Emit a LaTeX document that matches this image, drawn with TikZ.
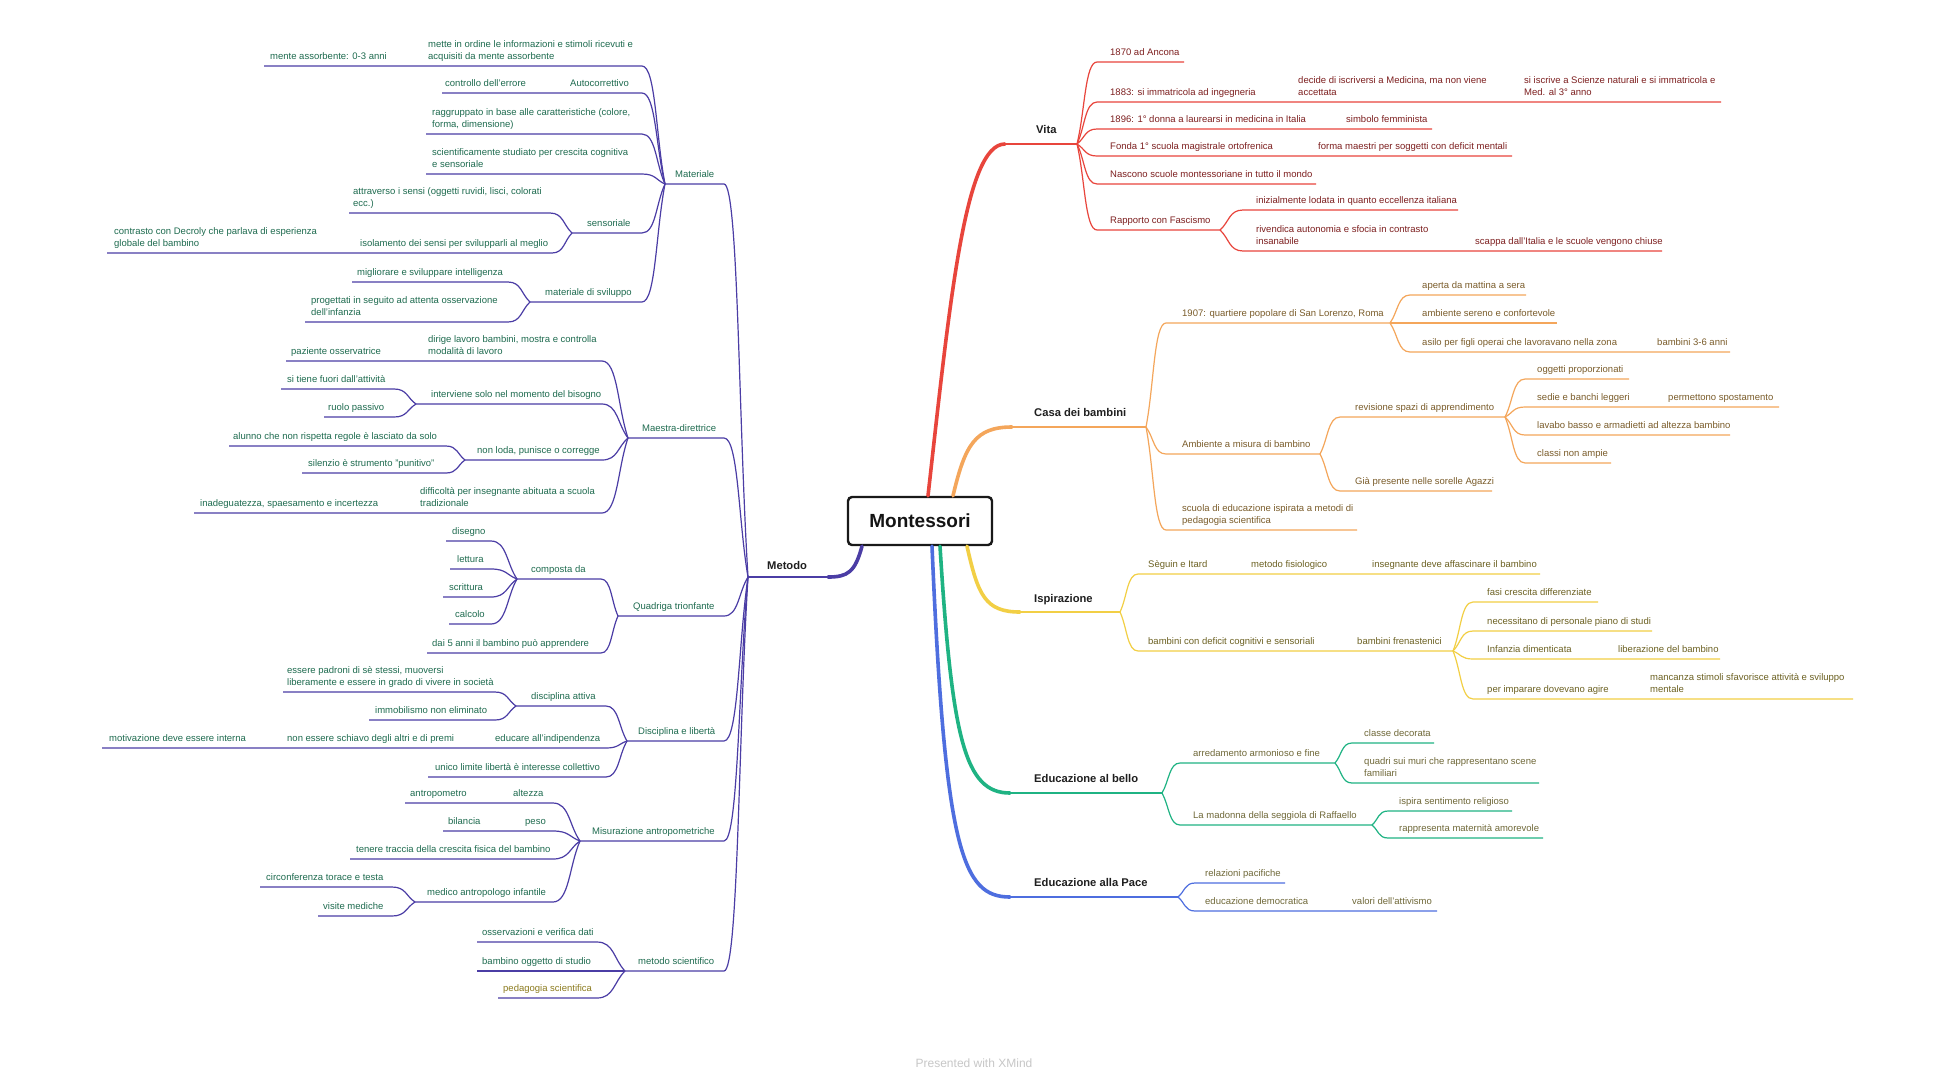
\documentclass[tikz,border=0pt]{standalone}
\usepackage{fontspec}
\setmainfont{Liberation Sans}
\usetikzlibrary{calc}

\definecolor{vitaline}{HTML}{E8453C}
\definecolor{vitatext}{HTML}{7D1F1F}
\definecolor{casaline}{HTML}{F4A65B}
\definecolor{casatext}{HTML}{7A5C2A}
\definecolor{ispiline}{HTML}{F2CF45}
\definecolor{ispitext}{HTML}{6C6122}
\definecolor{belloline}{HTML}{1FB383}
\definecolor{paceline}{HTML}{4E6EDF}
\definecolor{bellotext}{HTML}{6F6838}
\definecolor{metline}{HTML}{4B3DA5}
\definecolor{mettext}{HTML}{1E6B4F}
\definecolor{pedtext}{HTML}{8C7B1E}

\newcommand{\twol}[2]{\begin{tabular}[b]{@{}l@{}}#1\\#2\end{tabular}}

\tikzset{
  lbl/.style={anchor=base west, inner sep=0pt, font=\fontsize{9.5}{12}\selectfont},
  vitatxt/.style={lbl, text=vitatext},
  casatxt/.style={lbl, text=casatext},
  ispitxt/.style={lbl, text=ispitext},
  bellotxt/.style={lbl, text=bellotext},
  mettxt/.style={lbl, text=mettext},
  pedtxt/.style={lbl, text=pedtext},
  mainlbl/.style={anchor=base west, inner sep=0pt, font=\fontsize{11.2}{13}\selectfont\bfseries, text=black!88},
  vitaln/.style={line width=1.2pt, draw=vitaline},
  casaln/.style={line width=1.2pt, draw=casaline},
  ispiln/.style={line width=1.2pt, draw=ispiline},
  belloln/.style={line width=1.2pt, draw=belloline},
  paceln/.style={line width=1.2pt, draw=paceline},
  metln/.style={line width=1.2pt, draw=metline},
  trunk/.style={line width=3.6pt, line cap=round},
  trunkend/.style={line width=2.5pt},
  fan/.style={to path={.. controls ($(\tikztostart)!0.4!(\tikztotarget)$) and ($(\tikztotarget)!0.6!(\tikztostart |- \tikztotarget)$) .. (\tikztotarget)}},
}

\begin{document}
\begin{tikzpicture}[x=1pt,y=-1pt]
  \fill[white] (0,0) rectangle (1948,1080);
  \useasboundingbox (0,0) rectangle (1948,1080);

  \node[draw=black!90, line width=2.4pt, rounded corners=4pt, minimum width=144pt, minimum height=48pt,
        font=\fontsize{19}{22}\selectfont\bfseries, text=black!92] (root) at (920,521) {Montessori};

  % main branches
  \coordinate (vitaA) at (1005,144);   \coordinate (vita) at (1077,144);
  \coordinate (casaA) at (1012,427);   \coordinate (casa) at (1146,427);
  \coordinate (ispiA) at (1020,612);   \coordinate (ispi) at (1120,612);
  \coordinate (belloA) at (1010,793);  \coordinate (bello) at (1162,793);
  \coordinate (paceA) at (1010,897);   \coordinate (pace) at (1178,897);
  \coordinate (metA) at (828,577);     \coordinate (met) at (748,577);

  \draw[trunk, vitaline] ([xshift=8pt]root.north) .. controls (950,300) and (965,144) .. (vitaA);
  \draw[trunkend, vitaline] (vitaA) -- (vita);
  \draw[trunk, casaline] ([xshift=33pt]root.north) .. controls (965,445) and (975,427) .. (casaA);
  \draw[trunkend, casaline] (casaA) -- (casa);
  \draw[trunk, ispiline] ([xshift=47pt]root.south) .. controls (978,595) and (985,612) .. (ispiA);
  \draw[trunkend, ispiline] (ispiA) -- (ispi);
  \draw[trunk, belloline] ([xshift=20pt]root.south) .. controls (952,740) and (965,793) .. (belloA);
  \draw[trunkend, belloline] (belloA) -- (bello);
  \draw[trunk, paceline] ([xshift=12pt]root.south) .. controls (945,850) and (962,897) .. (paceA);
  \draw[trunkend, paceline] (paceA) -- (pace);
  \draw[trunk, metline] ([xshift=-58pt]root.south) .. controls (855,572) and (848,577) .. (metA);
  \draw[trunkend, metline] (metA) -- (met);

  \node[mainlbl] (vitaT) at (1036,133.5) {Vita};
  \node[mainlbl] (casaT) at (1034,416.5) {Casa dei bambini};
  \node[mainlbl] (ispiT) at (1034,602.5) {Ispirazione};
  \node[mainlbl] (belloT) at (1034,782.5) {Educazione al bello};
  \node[mainlbl] (paceT) at (1034,886.5) {Educazione alla Pace};
  \node[mainlbl] (metT) at (767,569.5) {Metodo};

  % Vita
  \coordinate (v1L) at (1097,62);  \coordinate (v1R) at (1184,62);
  \coordinate (v2L) at (1097,102); \coordinate (v2R) at (1721,102);
  \coordinate (v3L) at (1097,129); \coordinate (v3R) at (1432,129);
  \coordinate (v4L) at (1097,156); \coordinate (v4R) at (1512,156);
  \coordinate (v5L) at (1097,184); \coordinate (v5R) at (1316,184);
  \coordinate (v6L) at (1097,230); \coordinate (v6R) at (1220,230);
  \coordinate (v61L) at (1243,210); \coordinate (v61R) at (1458,210);
  \coordinate (v62L) at (1243,251); \coordinate (v62R) at (1662,251);
  \foreach \c in {v1,v2,v3,v4,v5,v6}
    \draw[vitaln] (vita) to[fan] (\c L) -- (\c R);
  \foreach \c in {v61,v62}
    \draw[vitaln] (v6R) to[fan] (\c L) -- (\c R);
  \node[vitatxt] (v1a) at (1110,55.5) {1870 ad Ancona};
  \node[vitatxt] (v2a) at (1110,95.5) {1883: si immatricola ad ingegneria};
  \node[vitatxt] (v2b) at (1298,95.5) {\twol{decide di iscriversi a Medicina, ma non viene}{accettata}};
  \node[vitatxt] (v2c) at (1524,95.5) {\twol{si iscrive a Scienze naturali e si immatricola e}{Med. al 3° anno}};
  \node[vitatxt] (v3a) at (1110,122.5) {1896: 1° donna a laurearsi in medicina in Italia};
  \node[vitatxt] (v3b) at (1346,122.5) {simbolo femminista};
  \node[vitatxt] (v4a) at (1110,149.5) {Fonda 1° scuola magistrale ortofrenica};
  \node[vitatxt] (v4b) at (1318,149.5) {forma maestri per soggetti con deficit mentali};
  \node[vitatxt] (v5a) at (1110,177.5) {Nascono scuole montessoriane in tutto il mondo};
  \node[vitatxt] (v6a) at (1110,223.5) {Rapporto con Fascismo};
  \node[vitatxt] (v61a) at (1256,203.5) {inizialmente lodata in quanto eccellenza italiana};
  \node[vitatxt] (v62a) at (1256,244.5) {\twol{rivendica autonomia e sfocia in contrasto}{insanabile}};
  \node[vitatxt] (v62b) at (1475,244.5) {scappa dall'Italia e le scuole vengono chiuse};

  % Casa dei bambini
  \coordinate (c1L) at (1166,323); \coordinate (c1R) at (1390,323);
  \coordinate (c2L) at (1166,454); \coordinate (c2R) at (1320,454);
  \coordinate (c3L) at (1166,530); \coordinate (c3R) at (1357,530);
  \coordinate (c11L) at (1410,295); \coordinate (c11R) at (1526,295);
  \coordinate (c12L) at (1410,323); \coordinate (c12R) at (1557,323);
  \coordinate (c13L) at (1410,352); \coordinate (c13R) at (1730,352);
  \coordinate (c21L) at (1340,417); \coordinate (c21R) at (1505,417);
  \coordinate (c22L) at (1340,491); \coordinate (c22R) at (1492,491);
  \coordinate (c211L) at (1525,379); \coordinate (c211R) at (1629,379);
  \coordinate (c212L) at (1525,407); \coordinate (c212R) at (1779,407);
  \coordinate (c213L) at (1525,435); \coordinate (c213R) at (1730,435);
  \coordinate (c214L) at (1525,463); \coordinate (c214R) at (1611,463);
  \foreach \c in {c1,c2,c3}
    \draw[casaln] (casa) to[fan] (\c L) -- (\c R);
  \foreach \c in {c11,c12,c13}
    \draw[casaln] (c1R) to[fan] (\c L) -- (\c R);
  \foreach \c in {c21,c22}
    \draw[casaln] (c2R) to[fan] (\c L) -- (\c R);
  \foreach \c in {c211,c212,c213,c214}
    \draw[casaln] (c21R) to[fan] (\c L) -- (\c R);
  \node[casatxt] (c1a) at (1182,316.5) {1907: quartiere popolare di San Lorenzo, Roma};
  \node[casatxt] (c11a) at (1422,288.5) {aperta da mattina a sera};
  \node[casatxt] (c12a) at (1422,316.5) {ambiente sereno e confortevole};
  \node[casatxt] (c13a) at (1422,345.5) {asilo per figli operai che lavoravano nella zona};
  \node[casatxt] (c13b) at (1657,345.5) {bambini 3-6 anni};
  \node[casatxt] (c2a) at (1182,447.5) {Ambiente a misura di bambino};
  \node[casatxt] (c21a) at (1355,410.5) {revisione spazi di apprendimento};
  \node[casatxt] (c211a) at (1537,372.5) {oggetti proporzionati};
  \node[casatxt] (c212a) at (1537,400.5) {sedie e banchi leggeri};
  \node[casatxt] (c212b) at (1668,400.5) {permettono spostamento};
  \node[casatxt] (c213a) at (1537,428.5) {lavabo basso e armadietti ad altezza bambino};
  \node[casatxt] (c214a) at (1537,456.5) {classi non ampie};
  \node[casatxt] (c22a) at (1355,484.5) {Già presente nelle sorelle Agazzi};
  \node[casatxt] (c3a) at (1182,523.5) {\twol{scuola di educazione ispirata a metodi di}{pedagogia scientifica}};

  % Ispirazione
  \coordinate (p1L) at (1138,574); \coordinate (p1R) at (1540,574);
  \coordinate (p2L) at (1138,651); \coordinate (p2R) at (1453,651);
  \coordinate (p21L) at (1473,602); \coordinate (p21R) at (1598,602);
  \coordinate (p22L) at (1473,631); \coordinate (p22R) at (1652,631);
  \coordinate (p23L) at (1473,659); \coordinate (p23R) at (1720,659);
  \coordinate (p24L) at (1473,699); \coordinate (p24R) at (1853,699);
  \foreach \c in {p1,p2}
    \draw[ispiln] (ispi) to[fan] (\c L) -- (\c R);
  \foreach \c in {p21,p22,p23,p24}
    \draw[ispiln] (p2R) to[fan] (\c L) -- (\c R);
  \node[ispitxt] (p1a) at (1148,567.5) {Sèguin e Itard};
  \node[ispitxt] (p1b) at (1251,567.5) {metodo fisiologico};
  \node[ispitxt] (p1c) at (1372,567.5) {insegnante deve affascinare il bambino};
  \node[ispitxt] (p2a) at (1148,644.5) {bambini con deficit cognitivi e sensoriali};
  \node[ispitxt] (p2b) at (1357,644.5) {bambini frenastenici};
  \node[ispitxt] (p21a) at (1487,595.5) {fasi crescita differenziate};
  \node[ispitxt] (p22a) at (1487,624.5) {necessitano di personale piano di studi};
  \node[ispitxt] (p23a) at (1487,652.5) {Infanzia dimenticata};
  \node[ispitxt] (p23b) at (1618,652.5) {liberazione del bambino};
  \node[ispitxt] (p24a) at (1487,692.5) {per imparare dovevano agire};
  \node[ispitxt] (p24b) at (1650,692.5) {\twol{mancanza stimoli sfavorisce attività e sviluppo}{mentale}};

  % Educazione al bello
  \coordinate (b1L) at (1180,763); \coordinate (b1R) at (1335,763);
  \coordinate (b2L) at (1180,825); \coordinate (b2R) at (1372,825);
  \coordinate (b11L) at (1352,743); \coordinate (b11R) at (1434,743);
  \coordinate (b12L) at (1352,783); \coordinate (b12R) at (1539,783);
  \coordinate (b21L) at (1388,811); \coordinate (b21R) at (1512,811);
  \coordinate (b22L) at (1388,838); \coordinate (b22R) at (1543,838);
  \foreach \c in {b1,b2}
    \draw[belloln] (bello) to[fan] (\c L) -- (\c R);
  \foreach \c in {b11,b12}
    \draw[belloln] (b1R) to[fan] (\c L) -- (\c R);
  \foreach \c in {b21,b22}
    \draw[belloln] (b2R) to[fan] (\c L) -- (\c R);
  \node[bellotxt] (b1a) at (1193,756.5) {arredamento armonioso e fine};
  \node[bellotxt] (b11a) at (1364,736.5) {classe decorata};
  \node[bellotxt] (b12a) at (1364,776.5) {\twol{quadri sui muri che rappresentano scene}{familiari}};
  \node[bellotxt] (b2a) at (1193,818.5) {La madonna della seggiola di Raffaello};
  \node[bellotxt] (b21a) at (1399,804.5) {ispira sentimento religioso};
  \node[bellotxt] (b22a) at (1399,831.5) {rappresenta maternità amorevole};

  % Educazione alla Pace
  \coordinate (e1L) at (1195,883); \coordinate (e1R) at (1285,883);
  \coordinate (e2L) at (1195,911); \coordinate (e2R) at (1437,911);
  \foreach \c in {e1,e2}
    \draw[paceln] (pace) to[fan] (\c L) -- (\c R);
  \node[bellotxt] (e1a) at (1205,876.5) {relazioni pacifiche};
  \node[bellotxt] (e2a) at (1205,904.5) {educazione democratica};
  \node[bellotxt] (e2b) at (1352,904.5) {valori dell'attivismo};

  % Metodo (left side)
  \coordinate (matL) at (665,184); \coordinate (matR) at (724,184);
  \coordinate (maeL) at (628,438); \coordinate (maeR) at (724,438);
  \coordinate (quaL) at (618,616); \coordinate (quaR) at (724,616);
  \coordinate (disL) at (627,741); \coordinate (disR) at (724,741);
  \coordinate (misL) at (580,841); \coordinate (misR) at (724,841);
  \coordinate (mscL) at (625,971); \coordinate (mscR) at (724,971);
  \foreach \c in {mat,mae,qua,dis,mis,msc}
    \draw[metln] (met) to[fan] (\c R) -- (\c L);
  \node[mettxt] (matT) at (675,177.5) {Materiale};
  \node[mettxt] (maeT) at (642,431.5) {Maestra-direttrice};
  \node[mettxt] (quaT) at (633,609.5) {Quadriga trionfante};
  \node[mettxt] (disT) at (638,734.5) {Disciplina e libertà};
  \node[mettxt] (misT) at (592,834.5) {Misurazione antropometriche};
  \node[mettxt] (mscT) at (638,964.5) {metodo scientifico};

  % Materiale
  \coordinate (m1L) at (264,66);  \coordinate (m1R) at (642,66);
  \coordinate (m2L) at (442,93);  \coordinate (m2R) at (642,93);
  \coordinate (m3L) at (426,134); \coordinate (m3R) at (642,134);
  \coordinate (m4L) at (426,174); \coordinate (m4R) at (642,174);
  \coordinate (m5L) at (572,233); \coordinate (m5R) at (642,233);
  \coordinate (m6L) at (530,302); \coordinate (m6R) at (642,302);
  \coordinate (m51L) at (349,213); \coordinate (m51R) at (550,213);
  \coordinate (m52L) at (107,253); \coordinate (m52R) at (552,253);
  \coordinate (m61L) at (352,282); \coordinate (m61R) at (508,282);
  \coordinate (m62L) at (305,322); \coordinate (m62R) at (508,322);
  \foreach \c in {m1,m2,m3,m4,m5,m6}
    \draw[metln] (matL) to[fan] (\c R) -- (\c L);
  \foreach \c in {m51,m52}
    \draw[metln] (m5L) to[fan] (\c R) -- (\c L);
  \foreach \c in {m61,m62}
    \draw[metln] (m6L) to[fan] (\c R) -- (\c L);
  \node[mettxt] (m1a) at (270,59.5) {mente assorbente: 0-3 anni};
  \node[mettxt] (m1b) at (428,59.5) {\twol{mette in ordine le informazioni e stimoli ricevuti e}{acquisiti da mente assorbente}};
  \node[mettxt] (m2a) at (445,86.5) {controllo dell'errore};
  \node[mettxt] (m2b) at (570,86.5) {Autocorrettivo};
  \node[mettxt] (m3a) at (432,127.5) {\twol{raggruppato in base alle caratteristiche (colore,}{forma, dimensione)}};
  \node[mettxt] (m4a) at (432,167.5) {\twol{scientificamente studiato per crescita cognitiva}{e sensoriale}};
  \node[mettxt] (m5a) at (587,226.5) {sensoriale};
  \node[mettxt] (m51a) at (353,206.5) {\twol{attraverso i sensi (oggetti ruvidi, lisci, colorati}{ecc.)}};
  \node[mettxt] (m52a) at (114,246.5) {\twol{contrasto con Decroly che parlava di esperienza}{globale del bambino}};
  \node[mettxt] (m52b) at (360,246.5) {isolamento dei sensi per svilupparli al meglio};
  \node[mettxt] (m6a) at (545,295.5) {materiale di sviluppo};
  \node[mettxt] (m61a) at (357,275.5) {migliorare e sviluppare intelligenza};
  \node[mettxt] (m62a) at (311,315.5) {\twol{progettati in seguito ad attenta osservazione}{dell'infanzia}};

  % Maestra-direttrice
  \coordinate (a1L) at (286,361); \coordinate (a1R) at (602,361);
  \coordinate (a2L) at (416,404); \coordinate (a2R) at (602,404);
  \coordinate (a3L) at (465,460); \coordinate (a3R) at (602,460);
  \coordinate (a4L) at (194,513); \coordinate (a4R) at (602,513);
  \coordinate (a21L) at (281,389); \coordinate (a21R) at (394,389);
  \coordinate (a22L) at (324,417); \coordinate (a22R) at (394,417);
  \coordinate (a31L) at (229,446); \coordinate (a31R) at (446,446);
  \coordinate (a32L) at (302,473); \coordinate (a32R) at (446,473);
  \foreach \c in {a1,a2,a3,a4}
    \draw[metln] (maeL) to[fan] (\c R) -- (\c L);
  \foreach \c in {a21,a22}
    \draw[metln] (a2L) to[fan] (\c R) -- (\c L);
  \foreach \c in {a31,a32}
    \draw[metln] (a3L) to[fan] (\c R) -- (\c L);
  \node[mettxt] (a1a) at (291,354.5) {paziente osservatrice};
  \node[mettxt] (a1b) at (428,354.5) {\twol{dirige lavoro bambini, mostra e controlla}{modalità di lavoro}};
  \node[mettxt] (a2a) at (431,397.5) {interviene solo nel momento del bisogno};
  \node[mettxt] (a21a) at (287,382.5) {si tiene fuori dall'attività};
  \node[mettxt] (a22a) at (328,410.5) {ruolo passivo};
  \node[mettxt] (a3a) at (477,453.5) {non loda, punisce o corregge};
  \node[mettxt] (a31a) at (233,439.5) {alunno che non rispetta regole è lasciato da solo};
  \node[mettxt] (a32a) at (308,466.5) {silenzio è strumento "punitivo"};
  \node[mettxt] (a4a) at (200,506.5) {inadeguatezza, spaesamento e incertezza};
  \node[mettxt] (a4b) at (420,506.5) {\twol{difficoltà per insegnante abituata a scuola}{tradizionale}};

  % Quadriga trionfante
  \coordinate (q1L) at (517,579); \coordinate (q1R) at (601,579);
  \coordinate (q2L) at (427,653); \coordinate (q2R) at (601,653);
  \coordinate (q11L) at (446,541); \coordinate (q11R) at (491,541);
  \coordinate (q12L) at (450,569); \coordinate (q12R) at (491,569);
  \coordinate (q13L) at (443,597); \coordinate (q13R) at (491,597);
  \coordinate (q14L) at (449,624); \coordinate (q14R) at (491,624);
  \foreach \c in {q1,q2}
    \draw[metln] (quaL) to[fan] (\c R) -- (\c L);
  \foreach \c in {q11,q12,q13,q14}
    \draw[metln] (q1L) to[fan] (\c R) -- (\c L);
  \node[mettxt] (q1a) at (531,572.5) {composta da};
  \node[mettxt] (q11a) at (452,534.5) {disegno};
  \node[mettxt] (q12a) at (457,562.5) {lettura};
  \node[mettxt] (q13a) at (449,590.5) {scrittura};
  \node[mettxt] (q14a) at (455,617.5) {calcolo};
  \node[mettxt] (q2a) at (432,646.5) {dai 5 anni il bambino può apprendere};

  % Disciplina e liberta
  \coordinate (i1L) at (516,706); \coordinate (i1R) at (606,706);
  \coordinate (i2L) at (102,748); \coordinate (i2R) at (606,748);
  \coordinate (i3L) at (428,777); \coordinate (i3R) at (606,777);
  \coordinate (i11L) at (283,692); \coordinate (i11R) at (495,692);
  \coordinate (i12L) at (369,720); \coordinate (i12R) at (495,720);
  \foreach \c in {i1,i2,i3}
    \draw[metln] (disL) to[fan] (\c R) -- (\c L);
  \foreach \c in {i11,i12}
    \draw[metln] (i1L) to[fan] (\c R) -- (\c L);
  \node[mettxt] (i1a) at (531,699.5) {disciplina attiva};
  \node[mettxt] (i11a) at (287,685.5) {\twol{essere padroni di sè stessi, muoversi}{liberamente e essere in grado di vivere in società}};
  \node[mettxt] (i12a) at (375,713.5) {immobilismo non eliminato};
  \node[mettxt] (i2a) at (109,741.5) {motivazione deve essere interna};
  \node[mettxt] (i2b) at (287,741.5) {non essere schiavo degli altri e di premi};
  \node[mettxt] (i2c) at (495,741.5) {educare all'indipendenza};
  \node[mettxt] (i3a) at (435,770.5) {unico limite libertà è interesse collettivo};

  % Misurazione antropometriche
  \coordinate (r1L) at (405,803); \coordinate (r1R) at (553,803);
  \coordinate (r2L) at (443,831); \coordinate (r2R) at (553,831);
  \coordinate (r3L) at (350,859); \coordinate (r3R) at (553,859);
  \coordinate (r4L) at (415,902); \coordinate (r4R) at (553,902);
  \coordinate (r41L) at (260,887); \coordinate (r41R) at (392,887);
  \coordinate (r42L) at (318,916); \coordinate (r42R) at (392,916);
  \foreach \c in {r1,r2,r3,r4}
    \draw[metln] (misL) to[fan] (\c R) -- (\c L);
  \foreach \c in {r41,r42}
    \draw[metln] (r4L) to[fan] (\c R) -- (\c L);
  \node[mettxt] (r1a) at (410,796.5) {antropometro};
  \node[mettxt] (r1b) at (513,796.5) {altezza};
  \node[mettxt] (r2a) at (448,824.5) {bilancia};
  \node[mettxt] (r2b) at (525,824.5) {peso};
  \node[mettxt] (r3a) at (356,852.5) {tenere traccia della crescita fisica del bambino};
  \node[mettxt] (r4a) at (427,895.5) {medico antropologo infantile};
  \node[mettxt] (r41a) at (266,880.5) {circonferenza torace e testa};
  \node[mettxt] (r42a) at (323,909.5) {visite mediche};

  % metodo scientifico
  \coordinate (k1L) at (477,942); \coordinate (k1R) at (597,942);
  \coordinate (k2L) at (477,971); \coordinate (k2R) at (597,971);
  \coordinate (k3L) at (498,998); \coordinate (k3R) at (597,998);
  \foreach \c in {k1,k2,k3}
    \draw[metln] (mscL) to[fan] (\c R) -- (\c L);
  \node[mettxt] (k1a) at (482,935.5) {osservazioni e verifica dati};
  \node[mettxt] (k2a) at (482,964.5) {bambino oggetto di studio};
  \node[pedtxt] (k3a) at (503,991.5) {pedagogia scientifica};

  \node[text=black!22, font=\fontsize{12}{14}\selectfont] (xmind) at (974,1063) {Presented with XMind};
\end{tikzpicture}
\end{document}
